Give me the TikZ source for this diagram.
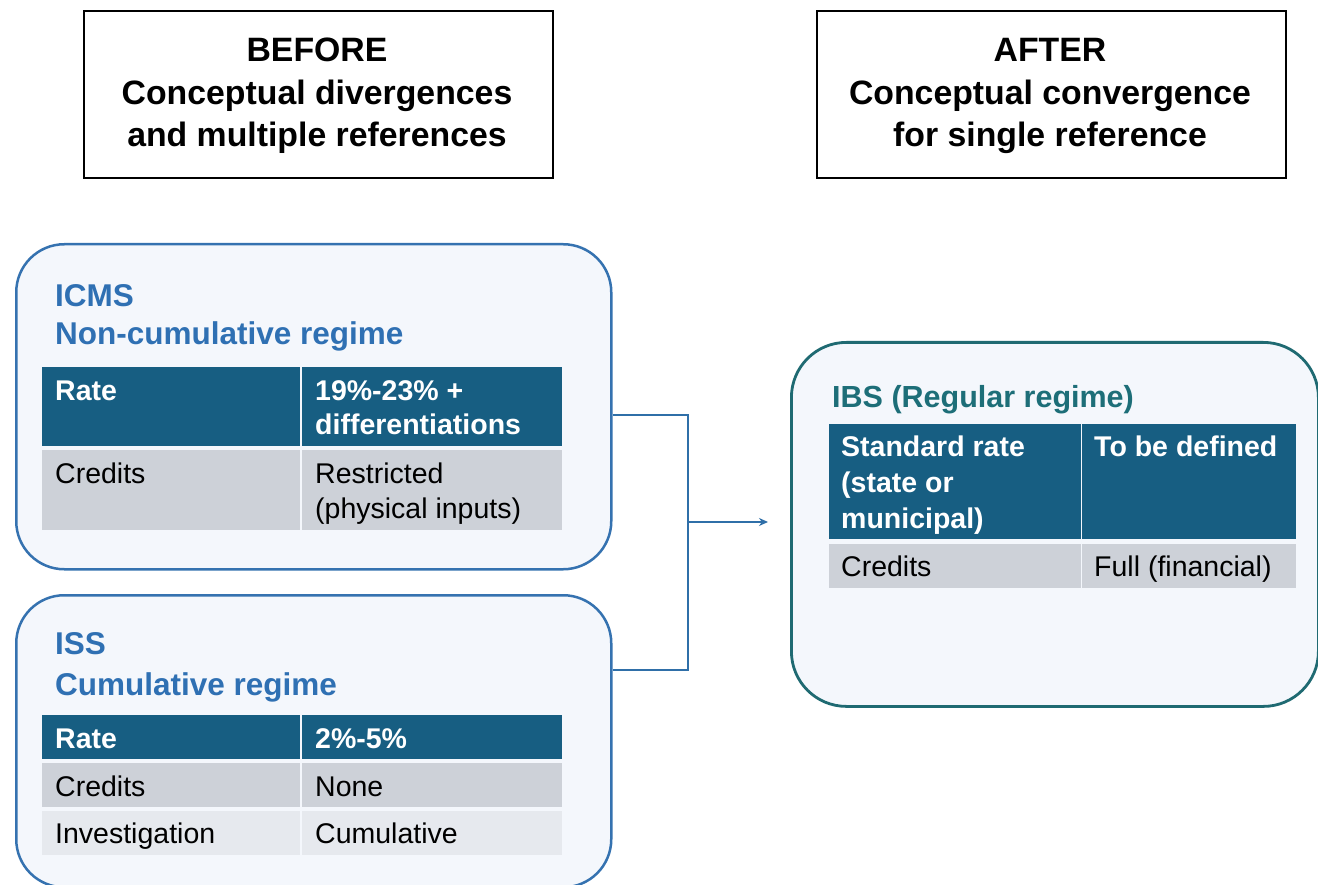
\documentclass[tikz,border=0pt]{standalone}
\usepackage{fontspec}
\setmainfont{Liberation Sans}
\usetikzlibrary{arrows.meta}
\definecolor{boxblue}{HTML}{3572B0}
\definecolor{ttlblue}{HTML}{2F70B3}
\definecolor{boxfill}{HTML}{F4F7FC}
\definecolor{hdrfill}{HTML}{175E82}
\definecolor{rowgray}{HTML}{CDD1D8}
\definecolor{rowlight}{HTML}{E6E9EE}
\definecolor{ibsteal}{HTML}{1F6A72}
\definecolor{ibsttl}{HTML}{1D6E78}
\definecolor{connblue}{HTML}{2F6FA8}
\begin{document}
\begin{tikzpicture}[x=1pt,y=-1pt,
  headbox/.style={draw=black,line width=2pt,fill=white,anchor=north west,minimum width=469pt,minimum height=167pt,inner sep=0pt},
  headtxt/.style={font=\fontsize{33.8}{40}\selectfont\bfseries,anchor=base,inner sep=0pt},
  regbox/.style={draw=boxblue,line width=2.5pt,fill=boxfill,rounded corners=48pt,anchor=north west,inner sep=0pt},
  ttl/.style={font=\fontsize{31.5}{35}\selectfont\bfseries,text=ttlblue,anchor=base west,inner sep=0pt},
  hdr/.style={fill=hdrfill,draw=none,anchor=north west,inner sep=0pt},
  gray/.style={fill=rowgray,draw=none,anchor=north west,inner sep=0pt},
  light/.style={fill=rowlight,draw=none,anchor=north west,inner sep=0pt},
  htxt/.style={font=\fontsize{28.5}{32}\selectfont\bfseries,text=white,anchor=base west,inner sep=0pt},
  ctxt/.style={font=\fontsize{28.5}{32}\selectfont,text=black,anchor=base west,inner sep=0pt},
  conn/.style={draw=connblue,line width=1.6pt},
]
\useasboundingbox (0,0) rectangle (1318,885);
\fill[white] (0,0) rectangle (1318,885);

% top headings
\node[headbox] (before) at (83,10) {};
\node[headtxt] (b1) at (317,62) {BEFORE};
\node[headtxt] (b2) at (317,105) {Conceptual divergences};
\node[headtxt] (b3) at (317,147) {and multiple references};
\node[headbox] (after) at (816,10) {};
\node[headtxt] (a1) at (1050,62) {AFTER};
\node[headtxt] (a2) at (1050,105) {Conceptual convergence};
\node[headtxt] (a3) at (1050,147) {for single reference};

% ICMS box
\node[regbox,minimum width=595pt,minimum height=325pt] (icms) at (15,243) {};
\node[ttl] (icmsT1) at (55,307) {ICMS};
\node[ttl] (icmsT2) at (55,345) {Non-cumulative regime};
\node[hdr,minimum width=258pt,minimum height=79pt] (i11) at (42,367) {};
\node[hdr,minimum width=260pt,minimum height=79pt] (i12) at (302,367) {};
\node[gray,minimum width=258pt,minimum height=80pt] (i21) at (42,450) {};
\node[gray,minimum width=260pt,minimum height=80pt] (i22) at (302,450) {};
\node[htxt] (i11t) at (55,400) {Rate};
\node[htxt] (i12t) at (315,400) {19\%-23\% +};
\node[htxt] (i12u) at (315,435) {differentiations};
\node[ctxt] (i21t) at (55,483) {Credits};
\node[ctxt] (i22t) at (315,483) {Restricted};
\node[ctxt] (i22u) at (315,518) {(physical inputs)};

% ISS box
\node[regbox,minimum width=595pt,minimum height=292pt] (iss) at (15,594) {};
\node[ttl] (issT1) at (55,654) {ISS};
\node[ttl] (issT2) at (55,695) {Cumulative regime};
\node[hdr,minimum width=258pt,minimum height=44pt] (s11) at (42,715) {};
\node[hdr,minimum width=260pt,minimum height=44pt] (s12) at (302,715) {};
\node[gray,minimum width=258pt,minimum height=44pt] (s21) at (42,763) {};
\node[gray,minimum width=260pt,minimum height=44pt] (s22) at (302,763) {};
\node[light,minimum width=258pt,minimum height=44pt] (s31) at (42,811) {};
\node[light,minimum width=260pt,minimum height=44pt] (s32) at (302,811) {};
\node[htxt] (s11t) at (55,748) {Rate};
\node[htxt] (s12t) at (315,748) {2\%-5\%};
\node[ctxt] (s21t) at (55,796) {Credits};
\node[ctxt] (s22t) at (315,796) {None};
\node[ctxt] (s31t) at (55,843) {Investigation};
\node[ctxt] (s32t) at (315,843) {Cumulative};

% IBS box
\node[regbox,draw=ibsteal,line width=2.8pt,rounded corners=55pt,minimum width=527pt,minimum height=364pt] (ibs) at (790,341) {};
\node[ttl,text=ibsttl,font=\fontsize{30.5}{35}\selectfont\bfseries] (ibsT) at (832,407) {IBS (Regular regime)};
\node[hdr,minimum width=252pt,minimum height=115pt] (b11) at (829,424) {};
\node[hdr,minimum width=214pt,minimum height=115pt] (b12) at (1082,424) {};
\node[gray,minimum width=252pt,minimum height=44pt] (b21) at (829,544) {};
\node[gray,minimum width=214pt,minimum height=44pt] (b22) at (1082,544) {};
\node[htxt] (b11t) at (841,456) {Standard rate};
\node[htxt] (b11u) at (841,492) {(state or};
\node[htxt] (b11v) at (841,528) {municipal)};
\node[htxt] (b12t) at (1094,456) {To be defined};
\node[ctxt] (b21t) at (841,576) {Credits};
\node[ctxt] (b22t) at (1094,576) {Full (financial)};

% connector
\coordinate (jn) at (688,522);
\coordinate (arrEnd) at (768,522);
\draw[conn] (icms.east |- 0,415) -| (jn) |- (iss.east |- 0,670);
\draw[conn,-{Stealth[length=9pt,width=8pt]}] (jn) -- (arrEnd);
\end{tikzpicture}
\end{document}
